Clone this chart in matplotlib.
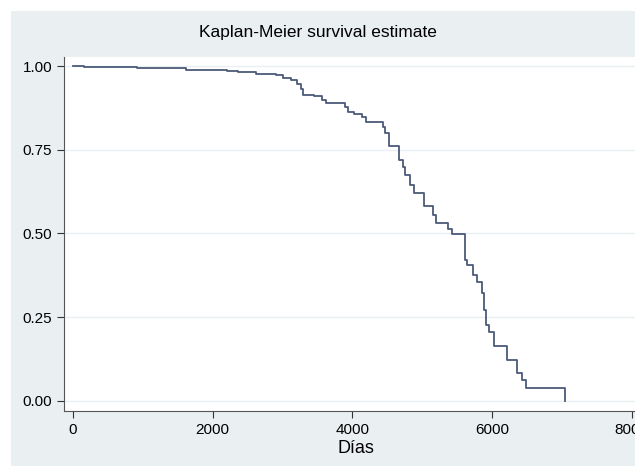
import matplotlib
matplotlib.use("Agg")
import matplotlib.pyplot as plt
from matplotlib.patches import Rectangle

plt.rcParams['font.family'] = ['Liberation Sans', 'DejaVu Sans']

# Kaplan-Meier step points (days, survival after the drop)
dias = [0, 160, 920, 1620, 2210, 2360, 2620, 2910, 3000, 3120, 3200, 3260, 3300,
        3450, 3560, 3620, 3900, 3940, 4020, 4140, 4200, 4440, 4470, 4520, 4670,
        4730, 4760, 4820, 4880, 5030, 5150, 5200, 5375, 5430, 5610, 5640, 5730,
        5790, 5860, 5890, 5915, 5960, 6030, 6210, 6360, 6430, 6490, 7045]
surv = [1.0, 0.998, 0.993, 0.988, 0.985, 0.981, 0.976, 0.973, 0.965, 0.958,
        0.945, 0.93, 0.913, 0.91, 0.898, 0.89, 0.879, 0.864, 0.857, 0.849,
        0.834, 0.819, 0.799, 0.762, 0.72, 0.70, 0.675, 0.645, 0.622, 0.583,
        0.555, 0.53, 0.512, 0.498, 0.421, 0.406, 0.376, 0.356, 0.321, 0.272,
        0.227, 0.207, 0.164, 0.122, 0.083, 0.063, 0.04, 0.0]

xticks = [0, 2000, 4000, 6000, 8000]
yticks = [0.0, 0.25, 0.5, 0.75, 1.0]

fig = plt.figure(figsize=(6.35, 4.66), dpi=100, facecolor='white')

# light panel behind everything
bg = fig.add_axes([0, 0, 1, 1], zorder=-1)
bg.axis('off')
bg.set_xlim(0, 1)
bg.set_ylim(0, 1)
bg.add_patch(Rectangle((11 / 635, 0), 1, 1 - 11 / 466, facecolor='#eaeff2', edgecolor='none'))

ax = fig.add_axes([64 / 635, 55 / 466, 1 - 64 / 635 + 0.02, 354 / 466])
ax.set_facecolor('white')
ax.step(dias, surv, where='post', color='#4b5a7a', linewidth=1.3)

ax.set_xlim(-130, 8230)
ax.set_ylim(-0.03, 1.027)
ax.set_xticks(xticks)
ax.set_yticks(yticks)
ax.set_yticklabels(['%.2f' % v for v in yticks])
ax.tick_params(labelsize=11, color='#333333', length=5)
ax.grid(axis='y', color='#eaeff2', linewidth=1)
ax.set_axisbelow(True)
for s in ['top', 'right']:
    ax.spines[s].set_visible(False)
for s in ['left', 'bottom']:
    ax.spines[s].set_color('#555555')

ax.set_xlabel('Días', fontsize=13, labelpad=2)
fig.text(0.5, 1 - 33 / 466, 'Kaplan-Meier survival estimate', ha='center', va='center', fontsize=12.5)

fig.savefig('out.png', dpi=100, facecolor='white')
